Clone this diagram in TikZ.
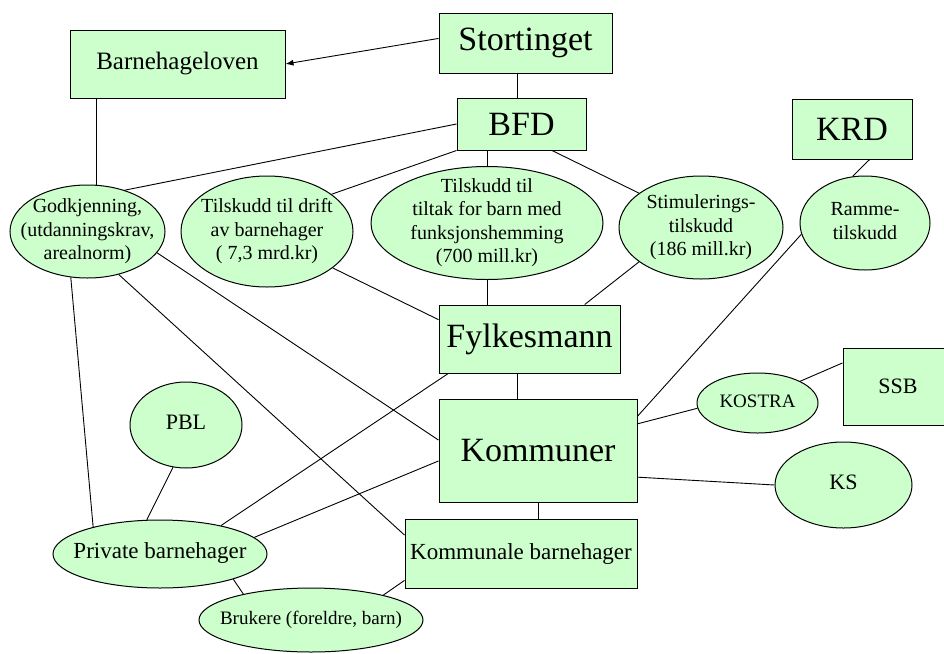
\documentclass[tikz,border=0pt]{standalone}
\usepackage{fontspec}
\setmainfont{Liberation Serif}
\usepackage{xcolor}
\usetikzlibrary{shapes.geometric,arrows.meta}
\definecolor{lgreen}{RGB}{204,255,204}
% text of a fixed-size shape, takes no room of its own
\newcommand{\zbox}[1]{\vbox to 0pt{\vss\hbox to 0pt{\hss\begin{tabular}{@{}c@{}}#1\end{tabular}\hss}\vss}}

\begin{document}
\begin{tikzpicture}[x=1pt,y=-1pt]
      \useasboundingbox(0,0) rectangle (944,653);
      \tikzset{R/.style = {shape=rectangle, draw, fill=lgreen, line width=1pt, inner sep=0pt, text=black}}
      \tikzset{O/.style = {shape=ellipse, draw, fill=lgreen, line width=1pt, inner sep=0pt, text=black}}
      \tikzset{fs/.style = {font=\fontsize{#1}{23.5}\selectfont}}
      \tikzset{E/.style = {draw, line width=0.9pt}}
      % boxes
      \node[R,fs=34,minimum width=173,minimum height=60](stort) at (525.5,43) {Stortinget};
      \node[R,fs=25,minimum width=215,minimum height=68](bhl) at (177.5,64) {Barnehageloven};
      \node[R,fs=34,minimum width=129,minimum height=52](bfd) at (521.5,124) {BFD};
      \node[R,fs=34,minimum width=120,minimum height=60](krd) at (852,129) {KRD};
      \node[R,fs=34,minimum width=181,minimum height=68](fylk) at (529.5,339) {Fylkesmann};
      \node[R,fs=34,minimum width=198,minimum height=103](komm) at (538,450.5) {Kommuner};
      \node[R,fs=22,minimum width=110,minimum height=77](ssb) at (898,386.5) {SSB};
      \node[R,fs=23,minimum width=232,minimum height=69](kbh) at (521,553.5) {Kommunale barnehager};
      % ellipses
      \node[O,fs=20,minimum width=155,minimum height=93](godk) at (87.5,231.5) {\zbox{Godkjenning,\\(utdanningskrav,\\arealnorm)}};
      \node[O,fs=20,minimum width=172,minimum height=111](drift) at (267,231.5) {\zbox{Tilskudd til drift\\av barnehager\\( 7,3 mrd.kr)}};
      \node[O,fs=20,minimum width=232,minimum height=113](tiltak) at (487,223) {\zbox{Tilskudd til\\tiltak for barn med\\funksjonshemming\\(700 mill.kr)}};
      \node[O,fs=20,minimum width=164,minimum height=103](stim) at (701,227.5) {\zbox{Stimulerings-\\tilskudd\\(186 mill.kr)}};
      \node[O,fs=20,minimum width=130,minimum height=94](ramme) at (865,223) {\zbox{Ramme-\\tilskudd}};
      \node[O,fs=19,minimum width=121,minimum height=60](kostra) at (757.5,403) {\zbox{KOSTRA}};
      \node[O,fs=22,minimum width=137,minimum height=86](ks) at (843.5,485) {\zbox{KS}};
      \node[O,fs=22,minimum width=112,minimum height=86](pbl) at (186,425) {\zbox{PBL}};
      \node[O,fs=23,minimum width=214,minimum height=68](priv) at (160,554) {\zbox{Private barnehager}};
      \node[O,fs=19,minimum width=224,minimum height=64](bruk) at (311,620) {\zbox{Brukere (foreldre, barn)}};
      % connectors
      \draw[E,-{Latex[length=8pt,width=6pt]}](stort.177) to (bhl.east);
      \draw[E](bfd.99) to (bfd.99 |- stort.south);
      \draw[E](godk.79) to (godk.79 |- bhl.south);
      \draw[E](bfd.west) to (godk.48);
      \draw[E](bfd.south west) to (drift.30);
      \draw[E](tiltak.north) to (tiltak.north |- bfd.south);
      \draw[E](bfd.319) to (stim.151);
      \draw[E](krd.300) to (ramme.105);
      \draw[E](godk.343) to (komm.174);
      \draw[E](godk.306) to (kbh.171);
      \draw[E](godk.250) to (priv.158);
      \draw[E](drift.331) to (fylk.168);
      \draw[E](tiltak.south) to (tiltak.south |- fylk.north);
      \draw[E](stim.209) to (fylk.32);
      \draw[E](ramme.190) to (komm.19);
      \draw[E](komm.112) to (komm.112 |- fylk.south);
      \draw[E](fylk.203) to (priv.25);
      \draw[E](komm.186) to (priv.10);
      \draw[E](komm.15) to (kostra.185);
      \draw[E](komm.345) to (ks.west);
      \draw[E](kostra.27) to (ssb.157);
      \draw[E](komm.south) to (komm.south |- kbh.north);
      \draw[E](pbl.253) to (priv.111);
      \draw[E](priv.341) to (bruk.159);
      \draw[E](kbh.193) to (bruk.19);
\end{tikzpicture}
\end{document}
